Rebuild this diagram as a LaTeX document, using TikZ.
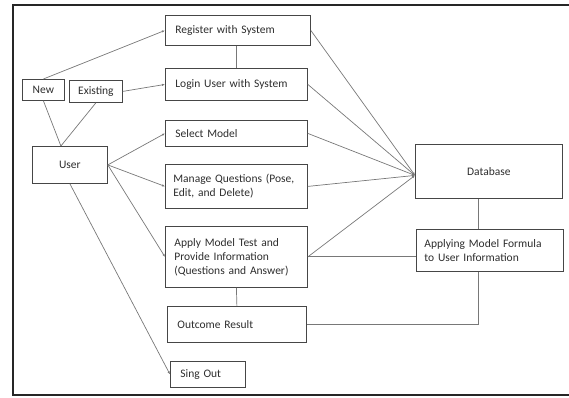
\documentclass[tikz,border=0pt]{standalone}
\usepackage{fontspec}
\setmainfont{Carlito}
\usepackage{tikz}
\usetikzlibrary{arrows.meta,positioning,calc}
\definecolor{dgedge}{RGB}{70,70,70}
\definecolor{dgline}{RGB}{120,120,120}
\definecolor{dgink}{RGB}{45,45,45}
\tikzset{
  dgbox/.style={
    draw=dgedge, line width=0.8pt, anchor=north west,
    inner ysep=2pt, text=dgink, font=\fontsize{11.5}{14}\selectfont
  },
  mid/.style={dgbox, inner xsep=10pt, align=left},
  ctr/.style={dgbox, inner xsep=2pt, align=center},
  ln/.style={draw=dgline, line width=0.7pt},
  tip/.style={ln, -{Latex[length=3pt,width=2.4pt]}},
  frame/.style={draw=black!85, line width=2.4pt}
}

\begin{document}
\begin{tikzpicture}[x=1pt, y=-1pt]
  \useasboundingbox (0,0) rectangle (569,397);
  \draw[frame] (571,5) -- (13,5) -- (13,395) -- (571,395);
  % middle column
  \node[mid, text width=125pt, minimum height=30pt] (reg) at (165,15) {Register with System};
  \node[mid, text width=122pt, minimum height=32pt] (login) at (165,68) {Login User with System};
  \node[mid, text width=122pt, minimum height=26pt] (sel) at (165,120) {Select Model};
  \node[mid, text width=126pt, minimum height=44pt, inner xsep=8pt] (mng) at (165,164)
    {Manage Questions (Pose,\\Edit, and Delete)};
  \node[mid, text width=124pt, minimum height=61pt, inner xsep=9pt] (apply) at (165,226)
    {Apply Model Test and\\Provide Information\\(Questions and Answer)};
  \node[mid, text width=119pt, minimum height=36pt] (outc) at (167,306) {Outcome Result};
  \node[mid, text width=55pt, minimum height=26pt] (signout) at (170,361) {Sing Out};
  % left side
  \node[ctr, minimum width=42pt, minimum height=21pt] (new) at (22,79) {New};
  \node[ctr, minimum width=53pt, minimum height=22pt] (exist) at (69,80) {Existing};
  \node[ctr, minimum width=75pt, minimum height=37pt] (user) at (32,146) {User};
  % right side
  \node[ctr, minimum width=147pt, minimum height=54pt] (db) at (415,144) {Database};
  \node[mid, text width=131pt, minimum height=42pt, inner xsep=8pt] (form) at (416,229)
    {Applying Model Formula\\to User Information};
  \coordinate (utop) at ([xshift=-9pt]user.north);
  \coordinate (dbin) at ([yshift=-4pt]db.west);
  \coordinate (fx) at ([xshift=-11pt]db.south);

  \draw[ln] (reg.south -| login.north) -- (login.north);
  \draw[tip] (new.north) -- (reg.west);
  \draw[ln] (new.south) -- (utop);
  \draw[ln] (exist.south) -- (utop);
  \draw[tip] (exist.east) -- (login.west);
  \foreach \b in {sel,mng,apply} \draw[tip] (user.east) -- (\b.west);
  \draw[tip] (user.south) -- (signout.west);
  \foreach \b in {reg,login,sel,mng,apply} \draw[tip] (\b.east) -- (dbin);
  \draw[ln, line width=1.1pt] (apply.east) -- (apply.east -| form.west);
  \draw[ln] (fx) -- (fx |- form.north);
  \draw[ln] (fx |- form.south) |- (outc.east);
  \draw[ln] (apply.south) -- (outc.north);
\end{tikzpicture}
\end{document}
